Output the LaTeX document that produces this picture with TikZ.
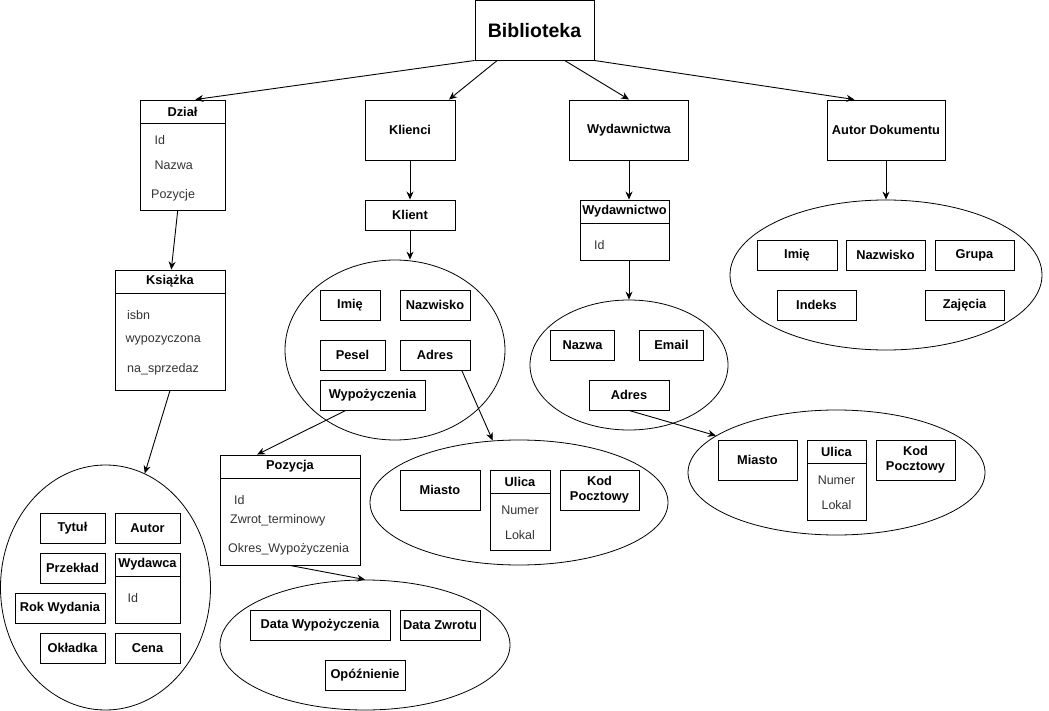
\documentclass[tikz,border=0pt]{standalone}
\usepackage{fontspec}
\setmainfont{Liberation Sans}
\usetikzlibrary{shapes.geometric,arrows.meta}

\begin{document}
\begin{tikzpicture}
[%
    x=1pt, y=-1pt,
    block/.style={
      rectangle,
      draw,
      line width=0.9pt,
      inner sep=1pt,
      align=center,
      minimum height=30,
      font=\fontsize{12.8}{15}\selectfont\bfseries
    },
    head/.style={
      rectangle,
      draw,
      line width=0.9pt,
      inner sep=1pt,
      minimum height=23,
      font=\fontsize{12.8}{15}\selectfont\bfseries
    },
    body/.style={
      rectangle,
      draw,
      line width=0.9pt
    },
    attr/.style={
      anchor=west,
      inner sep=0pt,
      text=black!80,
      font=\fontsize{12.5}{15}\selectfont
    },
    group/.style={
      ellipse,
      draw,
      line width=0.8pt,
      inner sep=0pt
    },
    link/.style={
      line width=0.9pt,
      -{Stealth[length=8pt,width=7pt]}
    }
  ]
  \useasboundingbox (0,0) rectangle (1049,711);
  %Biblioteka
  \draw (534.5,30.3) node[block, minimum width=119, minimum height=59.5, font=\fontsize{19.5}{22}\selectfont\bfseries] (Bib) {Biblioteka};

  %Dzial
  \draw (182.5,111.5) node[head, minimum width=85] (DzialH) {Dział};
  \draw (182.5,166.5) node[body, minimum width=85, minimum height=87] (DzialB) {};
  \node[attr] (DzialId) at (154.5,140) {Id};
  \node[attr] (DzialNazwa) at (154.5,165) {Nazwa};
  \node[attr] (DzialPoz) at (151,195) {Pozycje};

  %Ksiazka
  \draw (170,281.5) node[head, minimum width=110] (KsiazkaH) {Książka};
  \draw (170,341.5) node[body, minimum width=110, minimum height=97] (KsiazkaB) {};
  \node[attr] (KsIsbn) at (127,315) {isbn};
  \node[attr] (KsWyp) at (125.5,340) {wypozyczona};
  \node[attr] (KsSprz) at (127,369) {na\_sprzedaz};

  \draw (105.5,587.5) node[group, minimum width=210, minimum height=245] (KsiazkaE) {};
  \draw (72.5,528) node[block, minimum width=65] (KsTytul) {Tytuł};
  \draw (147.5,528) node[block, minimum width=65] (KsAutor) {Autor};
  \draw (72.5,568) node[block, minimum width=65] (KsPrzeklad) {Przekład};
  \draw (147.5,564.5) node[head, minimum width=65] (WydawcaH) {Wydawca};
  \draw (147.5,599.5) node[body, minimum width=65, minimum height=47] (WydawcaB) {};
  \node[attr] (WydawcaId) at (127.5,598) {Id};
  \draw (60,608) node[block, minimum width=90] (KsRok) {Rok Wydania};
  \draw (72.5,648) node[block, minimum width=65] (KsOkladka) {Okładka};
  \draw (147.5,648) node[block, minimum width=65] (KsCena) {Cena};

  %Klienci
  \draw (410,130) node[block, minimum width=90, minimum height=60] (Klienci) {Klienci};
  \draw (410,215) node[block, minimum width=90] (Klient) {Klient};

  \draw (395,350) node[group, minimum width=220, minimum height=180] (KlientE) {};
  \draw (350,305) node[block, minimum width=60] (KlImie) {Imię};
  \draw (435,305) node[block, minimum width=70] (KlNazwisko) {Nazwisko};
  \draw (352.5,355) node[block, minimum width=65] (KlPesel) {Pesel};
  \draw (435,355) node[block, minimum width=70] (KlAdres) {Adres};
  \draw (372.5,395) node[block, minimum width=105] (KlWyp) {Wypożyczenia};

  %Pozycja
  \draw (290,466.5) node[head, minimum width=140] (PozycjaH) {Pozycja};
  \draw (290,521.5) node[body, minimum width=140, minimum height=87] (PozycjaB) {};
  \node[attr] (PozId) at (234,500) {Id};
  \node[attr] (PozZwrot) at (230,520) {Zwrot\_terminowy};
  \node[attr] (PozOkres) at (228,549) {Okres\_Wypożyczenia};

  \draw (365,645) node[group, minimum width=290, minimum height=130] (PozycjaE) {};
  \draw (320,625) node[block, minimum width=140] (PozDataW) {Data Wypożyczenia};
  \draw (440,625) node[block, minimum width=80] (PozDataZ) {Data Zwrotu};
  \draw (365,675) node[block, minimum width=80] (PozOpoz) {Opóźnienie};

  %Adres klienta
  \draw (519,502.5) node[group, minimum width=298, minimum height=125] (AdresE1) {};
  \draw (440,490) node[block, minimum width=80, minimum height=40] (KlMiasto) {Miasto};
  \draw (520,481.5) node[head, minimum width=60] (KlUlicaH) {Ulica};
  \draw (520,521.5) node[body, minimum width=60, minimum height=57] (KlUlicaB) {};
  \node[attr, anchor=center] (KlNumer) at (520,510) {Numer};
  \node[attr, anchor=center] (KlLokal) at (520,535) {Lokal};
  \draw (599.5,490) node[block, minimum width=79, minimum height=40] (KlKod) {Kod\\Pocztowy};

  %Wydawnictwa
  \draw (629,130) node[block, minimum width=119, minimum height=60] (Wydawnictwa) {Wydawnictwa};
  \draw (624.5,211.5) node[head, minimum width=89] (WydawnictwoH) {Wydawnictwo};
  \draw (624.5,241.5) node[body, minimum width=89, minimum height=37] (WydawnictwoB) {};
  \node[attr] (WydId) at (594,245) {Id};

  \draw (629,365) node[group, minimum width=198, minimum height=130] (WydawnictwaE) {};
  \draw (582.5,345) node[block, minimum width=64] (WyNazwa) {Nazwa};
  \draw (671.5,345) node[block, minimum width=64] (WyEmail) {Email};
  \draw (629,395) node[block, minimum width=80] (WyAdres) {Adres};

  %Adres wydawnictwa
  \draw (836.5,472.5) node[group, minimum width=297, minimum height=125] (AdresE2) {};
  \draw (757.5,460) node[block, minimum width=79, minimum height=40] (WyMiasto) {Miasto};
  \draw (836.5,451.5) node[head, minimum width=59] (WyUlicaH) {Ulica};
  \draw (836.5,491.5) node[body, minimum width=59, minimum height=57] (WyUlicaB) {};
  \node[attr, anchor=center] (WyNumer) at (836.5,480) {Numer};
  \node[attr, anchor=center] (WyLokal) at (836.5,505) {Lokal};
  \draw (915.5,460) node[block, minimum width=79, minimum height=40] (WyKod) {Kod\\Pocztowy};

  %Autor Dokumentu
  \draw (886,130) node[block, minimum width=118, minimum height=60] (Autor) {Autor Dokumentu};

  \draw (886,275) node[group, minimum width=312, minimum height=150] (AutorE) {};
  \draw (797,255) node[block, minimum width=80] (AuImie) {Imię};
  \draw (885.5,255) node[block, minimum width=79] (AuNazwisko) {Nazwisko};
  \draw (974.5,255) node[block, minimum width=79] (AuGrupa) {Grupa};
  \draw (816.5,305) node[block, minimum width=79] (AuIndeks) {Indeks};
  \draw (964.5,305) node[block, minimum width=79] (AuZajecia) {Zajęcia};

  %Polaczenia
  \draw[link] (Bib.south west) -- (DzialH.43);
  \draw[link] (Bib.-141) -- (Klienci.38);
  \draw[link] (Bib.-45) -- (Wydawnictwa.north);
  \draw[link] (Bib.south east) -- (Autor.136);
  \draw[link] (DzialB) -- (KsiazkaH);
  \draw[link] (KsiazkaB.south) -- (KsiazkaE.71);
  \draw[link] (Klienci) -- (Klient);
  \draw[link] (Klient) -- (Klient |- KlientE.north);
  \draw[link] (KlAdres.-30) -- (AdresE1.113);
  \draw[link] (KlWyp.-150) -- (PozycjaH.160);
  \draw[link] (PozycjaB.south) -- (PozycjaE.north);
  \draw[link] (Wydawnictwa) -- (Wydawnictwa.south |- WydawnictwoH.north);
  \draw[link] (Wydawnictwa.south |- WydawnictwoB.south) -- (WydawnictwaE);
  \draw[link] (WyAdres.south) -- (AdresE2.163);
  \draw[link] (Autor) -- (AutorE);
\end{tikzpicture}
\end{document}
